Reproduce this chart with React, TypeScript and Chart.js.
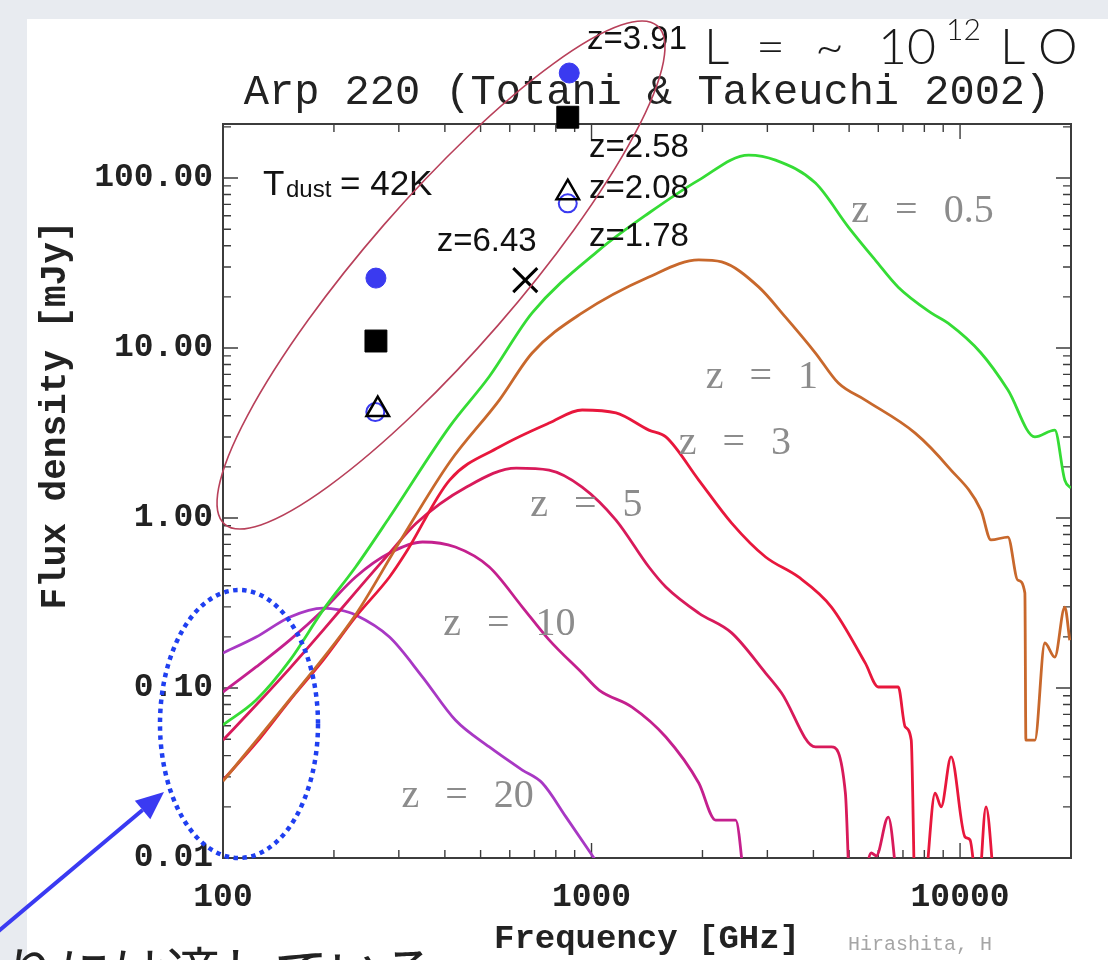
import React, { useEffect, useRef } from 'react';
import { Chart, registerables } from 'chart.js';

Chart.register(...registerables);

// ---------- axes ----------
const X_MIN = 100;
const X_MAX = 20000;
const Y_MIN = 0.01;
const Y_MAX = 208;
const xTickValues = [100, 1000, 10000];
const xTickLabels = ['100', '1000', '10000'];
const yTickValues = [0.01, 0.1, 1, 10, 100];
const yTickLabels = ['0.01', '0.10', '1.00', '10.00', '100.00'];

// ---------- model SEDs (frequency GHz, flux mJy) ----------
const z05Freq = [100, 123, 152, 187, 229, 283, 412, 528, 690, 1048, 1431, 1954, 2669, 3157, 4052, 4977, 5888, 6796, 8347, 9280, 11398, 13488, 15959, 18075, 19237, 20000];
const z05Flux = [0.0606, 0.085, 0.146, 0.288, 0.515, 1.01, 3.45, 6.8, 16.1, 37.7, 62.3, 97.3, 136.6, 127.6, 93.5, 51.5, 32.9, 22.8, 16.1, 14.0, 9.35, 5.66, 3.0, 3.29, 1.67, 1.5];

const z1Freq = [100, 152, 229, 301, 412, 562, 690, 943, 1431, 1954, 2255, 2840, 3360, 4052, 4675, 5533, 7555, 9280, 11398, 12130, 13488, 14354, 14993, 15087, 15959, 16983, 18075, 19237, 19845];
const z1Flux = [0.0283, 0.086, 0.27, 0.72, 2.13, 4.94, 9.35, 16.1, 26.2, 33.0, 32.1, 22.9, 15.2, 9.35, 6.22, 4.94, 3.16, 2.0, 1.11, 0.743, 0.773, 0.431, 0.362, 0.0494, 0.0494, 0.184, 0.152, 0.299, 0.191];

const z3Freq = [100, 123, 152, 187, 229, 283, 313, 412, 562, 767, 943, 1165, 1431, 1591, 1954, 2400, 2967, 3643, 4477, 5533, 6000, 6796, 7100, 7370, 7555, 7943, 8557, 8884, 9454, 10316, 10642, 11186, 11757, 12435];
const z3Flux = [0.0287, 0.0475, 0.085, 0.146, 0.262, 0.45, 0.622, 1.673, 2.616, 3.62, 4.32, 4.15, 3.29, 3.0, 1.673, 0.934, 0.59, 0.45, 0.2995, 0.14, 0.1014, 0.1014, 0.059, 0.0494, 0.006, 0.006, 0.0241, 0.02, 0.0393, 0.0133, 0.0128, 0.006, 0.02, 0.006];

const z5Freq = [100, 123, 152, 187, 229, 283, 335, 458, 625, 767, 943, 1165, 1431, 1591, 1954, 2400, 2967, 3278, 4052, 4477, 4885, 5039, 5364, 5742, 5924, 6385, 6796];
const z5Flux = [0.0494, 0.0794, 0.131, 0.219, 0.367, 0.622, 0.934, 1.522, 1.968, 1.916, 1.522, 0.973, 0.515, 0.393, 0.276, 0.211, 0.1225, 0.0935, 0.045, 0.045, 0.0241, 0.006, 0.006, 0.0107, 0.0103, 0.0174, 0.006];

const z10Freq = [100, 123, 152, 187, 229, 283, 348, 427, 528, 649, 767, 943, 1048, 1288, 1591, 1954, 2172, 2460, 2619];
const z10Flux = [0.0947, 0.133, 0.192, 0.288, 0.45, 0.622, 0.723, 0.675, 0.515, 0.2995, 0.192, 0.1225, 0.0973, 0.0773, 0.0515, 0.0276, 0.0167, 0.0167, 0.006];

const z20Freq = [100, 123, 152, 187, 207, 229, 283, 348, 427, 528, 649, 735, 853, 1068];
const z20Flux = [0.1606, 0.1995, 0.262, 0.2955, 0.288, 0.269, 0.1995, 0.116, 0.0648, 0.045, 0.0329, 0.0276, 0.0174, 0.0085];

const curveNames = ['z = 0.5', 'z = 1', 'z = 3', 'z = 5', 'z = 10', 'z = 20'];
const curveColors = ['#35dc35', '#c8682c', '#e8173c', '#d81a5a', '#c4208e', '#a838c4'];

// ---------- observed points ----------
const obsCircleFreq = [260, 870];
const obsCircleFlux = [25.8, 415];
const obsSquareFreq = [260, 862];
const obsSquareFlux = [11.0, 228];
const obsTriangleFreq = [263, 862];
const obsTriangleFlux = [4.35, 82];
const obsOpenCircleFreq = [259, 862];
const obsOpenCircleFlux = [4.2, 71];
const obsCrossFreq = [661];
const obsCrossFlux = [25.1];

// ---------- labels ----------
const curveLabelFreq = [5070, 2042, 1725, 682, 396, 305];
const curveLabelFlux = [64, 6.75, 2.76, 1.19, 0.235, 0.0229];
const obsLabelText = ['z=3.91', 'z=2.58', 'z=2.08', 'z=1.78', 'z=6.43'];
const obsLabelFreq = [972, 984, 984, 984, 380];
const obsLabelFlux = [648, 150, 86.1, 45, 42];

const toXY = (xs: number[], ys: number[]) => xs.map((x, i) => ({ x, y: ys[i] }));

function drawTokens(ctx: CanvasRenderingContext2D, text: string, x: number, y: number, gap: number) {
  let cx = x;
  for (const tok of text.split(' ')) {
    ctx.fillText(tok, cx, y);
    cx += ctx.measureText(tok).width + gap;
  }
}

const decorPlugin = {
  id: 'decor',
  beforeDraw(chart: any) {
    const { ctx, width, height } = chart;
    ctx.save();
    ctx.fillStyle = '#e8ebf0';
    ctx.fillRect(0, 0, width, height);
    ctx.fillStyle = '#ffffff';
    ctx.fillRect(27, 19, width - 27, height - 19);
    ctx.restore();
  },
  beforeDatasetsDraw(chart: any) {
    const { ctx, chartArea } = chart;
    const { left, right, top, bottom } = chartArea;
    const xs = chart.scales.x;
    const ys = chart.scales.y;
    ctx.save();
    ctx.strokeStyle = '#3c3c3c';
    ctx.lineWidth = 1.4;
    ctx.beginPath();
    for (let d = 2; d <= 4; d++) {
      for (let m = 1; m <= 9; m++) {
        const v = m * Math.pow(10, d);
        if (v <= X_MIN * 1.0001 || v >= X_MAX * 0.9999) continue;
        const px = xs.getPixelForValue(v);
        const len = m === 1 ? 15 : 8;
        ctx.moveTo(px, bottom); ctx.lineTo(px, bottom - len);
        ctx.moveTo(px, top); ctx.lineTo(px, top + len);
      }
    }
    for (let d = -2; d <= 2; d++) {
      for (let m = 1; m <= 9; m++) {
        const v = m * Math.pow(10, d);
        if (v <= Y_MIN * 1.0001 || v >= Y_MAX * 0.9999) continue;
        const py = ys.getPixelForValue(v);
        const len = m === 1 ? 15 : 8;
        ctx.moveTo(left, py); ctx.lineTo(left + len, py);
        ctx.moveTo(right, py); ctx.lineTo(right - len, py);
      }
    }
    ctx.stroke();
    ctx.lineWidth = 2;
    ctx.strokeRect(left, top, right - left, bottom - top);
    ctx.restore();
  },
  afterDatasetsDraw(chart: any) {
    // Chart.js skips points lying outside the chart area; draw those with the library's own elements
    const { ctx, chartArea: a } = chart;
    const full = { left: 0, top: 0, right: chart.width, bottom: chart.height };
    chart.data.datasets.forEach((ds: any, i: number) => {
      if (ds.clip !== false) return;
      const meta = chart.getDatasetMeta(i);
      meta.data.forEach((el: any) => {
        const m = (el.options.radius || 0) + (el.options.borderWidth || 0);
        const inside = el.x > a.left - m && el.x < a.right + m && el.y > a.top - m && el.y < a.bottom + m;
        if (!inside) el.draw(ctx, full);
      });
    });
  },
  afterDraw(chart: any) {
    const { ctx } = chart;
    const xs = chart.scales.x;
    const ys = chart.scales.y;
    ctx.save();

    // curve labels
    ctx.fillStyle = '#8c8c8c';
    ctx.font = '40px "Liberation Serif"';
    ctx.textBaseline = 'middle';
    ctx.textAlign = 'left';
    curveNames.forEach((t, i) => {
      drawTokens(ctx, t, xs.getPixelForValue(curveLabelFreq[i]), ys.getPixelForValue(curveLabelFlux[i]), 26);
    });

    // observed-point labels
    ctx.fillStyle = '#111';
    ctx.font = '33px "Liberation Sans"';
    obsLabelText.forEach((t, i) => {
      ctx.fillText(t, xs.getPixelForValue(obsLabelFreq[i]), ys.getPixelForValue(obsLabelFlux[i]));
    });

    // T_dust
    ctx.textBaseline = 'alphabetic';
    ctx.font = '35px "Liberation Sans"';
    ctx.fillText('T', 263, 195);
    ctx.font = '24px "Liberation Sans"';
    ctx.fillText('dust', 286, 197);
    ctx.font = '35px "Liberation Sans"';
    ctx.fillText('= 42K', 340, 195);

    // Hirashita credit
    ctx.fillStyle = '#a5a5a5';
    ctx.font = '20px "Liberation Mono"';
    ctx.fillText('Hirashita, H', 848, 950);

    // luminosity note
    ctx.fillStyle = '#1a1a1a';
    ctx.font = '300 50px Lato';
    ctx.fillText('L', 704, 64);
    ctx.fillText('=', 756, 64);
    ctx.fillText('~', 815, 64);
    ctx.fillText('10', 878, 64);
    ctx.font = '300 30px Lato';
    ctx.fillText('12', 946, 40);
    ctx.font = '300 50px Lato';
    ctx.fillText('L', 1000, 64);
    ctx.fillText('O', 1038, 64);

    // Japanese note (cut at the bottom)
    ctx.fillStyle = '#222';
    ctx.font = '54px "Noto Sans CJK JP"';
    ctx.fillText('りには適している', 4, 993);

    // red ellipse around observed points
    ctx.strokeStyle = '#b8405a';
    ctx.lineWidth = 1.6;
    ctx.beginPath();
    ctx.ellipse(441, 275, 330, 76, (-49 * Math.PI) / 180, 0, Math.PI * 2);
    ctx.stroke();

    // blue dotted ellipse
    ctx.strokeStyle = '#1f3ff0';
    ctx.lineWidth = 4.5;
    ctx.setLineDash([4.5, 4.5]);
    ctx.beginPath();
    ctx.ellipse(239, 724, 79, 134, 0, 0, Math.PI * 2);
    ctx.stroke();
    ctx.setLineDash([]);

    // arrow
    const tipX = 164, tipY = 792;
    const ang = Math.atan2(tipY - 934, tipX - -5);
    const hl = 28, hw = 12;
    const bx = tipX - hl * Math.cos(ang), by = tipY - hl * Math.sin(ang);
    ctx.strokeStyle = '#3a3af2';
    ctx.fillStyle = '#3a3af2';
    ctx.lineWidth = 4;
    ctx.beginPath();
    ctx.moveTo(-5, 934);
    ctx.lineTo(bx, by);
    ctx.stroke();
    ctx.beginPath();
    ctx.moveTo(tipX, tipY);
    ctx.lineTo(bx + hw * Math.sin(ang), by - hw * Math.cos(ang));
    ctx.lineTo(bx - hw * Math.sin(ang), by + hw * Math.cos(ang));
    ctx.closePath();
    ctx.fill();

    ctx.restore();
  },
};

export default function App() {
  const ref = useRef<HTMLCanvasElement>(null);
  useEffect(() => {
    const canvas = ref.current;
    if (!canvas) return;
    const curveSets = [
      [z05Freq, z05Flux], [z1Freq, z1Flux], [z3Freq, z3Flux],
      [z5Freq, z5Flux], [z10Freq, z10Flux], [z20Freq, z20Flux],
    ].map(([f, s], i) => ({
      label: curveNames[i],
      data: toXY(f as number[], s as number[]),
      showLine: true,
      borderColor: curveColors[i],
      backgroundColor: curveColors[i],
      borderWidth: 2.8,
      pointRadius: 0,
      cubicInterpolationMode: 'monotone' as const,
    }));
    const chart = new Chart(canvas, {
      type: 'scatter',
      data: {
        datasets: [
          { label: 'z=3.91', data: toXY(obsCircleFreq, obsCircleFlux), pointStyle: 'circle', pointRadius: 10, backgroundColor: '#3a3af0', borderColor: '#3a3af0', borderWidth: 1, clip: false },
          { label: 'z=2.58', data: toXY(obsSquareFreq, obsSquareFlux), pointStyle: 'rect', pointRadius: 15.5, backgroundColor: '#000', borderColor: '#000', borderWidth: 1, clip: false },
          { label: 'z=2.08', data: toXY(obsTriangleFreq, obsTriangleFlux), pointStyle: 'triangle', pointRadius: 13, backgroundColor: 'rgba(0,0,0,0)', borderColor: '#000', borderWidth: 2.5, clip: false },
          { label: 'z=1.78', data: toXY(obsOpenCircleFreq, obsOpenCircleFlux), pointStyle: 'circle', pointRadius: 9, backgroundColor: 'rgba(0,0,0,0)', borderColor: '#3a3af0', borderWidth: 2, clip: false },
          { label: 'z=6.43', data: toXY(obsCrossFreq, obsCrossFlux), pointStyle: 'crossRot', pointRadius: 17, backgroundColor: '#000', borderColor: '#000', borderWidth: 3, clip: false },
          ...curveSets,
        ] as any,
      },
      options: {
        animation: false,
        responsive: false,
        devicePixelRatio: 1,
        events: [],
        layout: { padding: { left: 0, right: 37, top: 0, bottom: 0 } },
        plugins: {
          legend: { display: false },
          tooltip: { enabled: false },
          title: {
            display: true,
            text: 'Arp 220 (Totani & Takeuchi 2002)',
            fullSize: false,
            color: '#222',
            font: { family: '"Liberation Mono"', size: 42, weight: 'normal', lineHeight: 1.2 },
            padding: { top: 68, bottom: 5.6 },
          },
        },
        scales: {
          x: {
            type: 'logarithmic',
            position: 'bottom',
            min: X_MIN,
            max: X_MAX,
            grid: { display: false, drawTicks: false },
            border: { display: false },
            afterBuildTicks: (s: any) => { s.ticks = xTickValues.map((v) => ({ value: v })); },
            afterFit: (s: any) => { s.height = 102; },
            ticks: {
              autoSkip: false,
              maxRotation: 0,
              padding: 20,
              color: '#222',
              font: { family: '"Liberation Mono"', size: 33, weight: 'bold' },
              callback: (v: any) => { const i = xTickValues.indexOf(Number(v)); return i >= 0 ? xTickLabels[i] : ''; },
            },
            title: {
              display: true,
              text: 'Frequency [GHz]',
              color: '#222',
              font: { family: '"Liberation Mono"', size: 34, weight: 'bold', lineHeight: 1.2 },
              padding: { top: 0, bottom: 0 },
            },
          },
          y: {
            type: 'logarithmic',
            position: 'left',
            min: Y_MIN,
            max: Y_MAX,
            grid: { display: false, drawTicks: false },
            border: { display: false },
            afterBuildTicks: (s: any) => { s.ticks = yTickValues.map((v) => ({ value: v })); },
            afterFit: (s: any) => { s.width = 223; },
            ticks: {
              autoSkip: false,
              padding: 10,
              color: '#222',
              font: { family: '"Liberation Mono"', size: 33, weight: 'bold' },
              callback: (v: any) => { const i = yTickValues.indexOf(Number(v)); return i >= 0 ? yTickLabels[i] : ''; },
            },
            title: { display: false },
          },
        },
      },
      plugins: [
        decorPlugin as any,
        {
          id: 'yTitle',
          afterDraw(chart: any) {
            const { ctx } = chart;
            ctx.save();
            ctx.translate(56, 415);
            ctx.rotate(-Math.PI / 2);
            ctx.fillStyle = '#222';
            ctx.font = 'bold 36px "Liberation Mono"';
            ctx.textAlign = 'center';
            ctx.textBaseline = 'middle';
            ctx.fillText('Flux density [mJy]', 0, 0);
            ctx.restore();
          },
        } as any,
      ],
    } as any);
    return () => chart.destroy();
  }, []);
  return (
    <div style={{ position: 'absolute', left: 0, top: 0, width: 1108, height: 960, overflow: 'hidden' }}>
      <style>{'html,body{margin:0;padding:0;}'}</style>
      <canvas ref={ref} width={1108} height={960} style={{ display: 'block', width: 1108, height: 960 }} />
    </div>
  );
}
